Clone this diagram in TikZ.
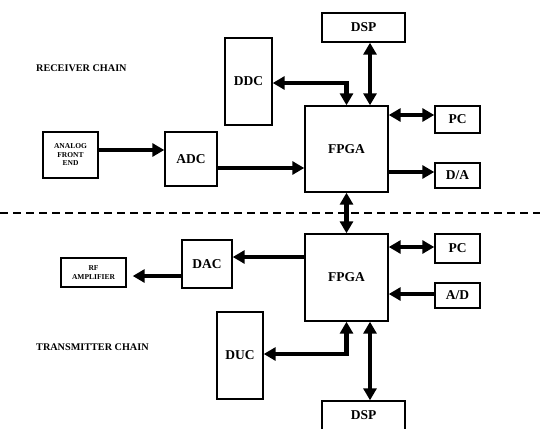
\documentclass[tikz,border=0pt]{standalone}
\usepackage{fontspec}
\setmainfont{Liberation Serif}
\usetikzlibrary{arrows.meta}
\begin{document}
\begin{tikzpicture}[x=1pt,y=-1pt,
  box/.style={draw,line width=1.4pt,inner sep=0pt,align=center,font=\bfseries\fontsize{13.5}{14}\selectfont},
  smallbox/.style={box,font=\bfseries\fontsize{7.5}{8.5}\selectfont},
  arr/.style={line width=4.5pt,-{Triangle[width=13pt,length=12pt]}},
  darr/.style={line width=4.5pt,{Triangle[width=13pt,length=12pt]}-{Triangle[width=13pt,length=12pt]}},
  chain/.style={anchor=west,inner sep=0pt,font=\bfseries\fontsize{10.2}{12}\selectfont}]
\useasboundingbox (0,0) rectangle (540,428);
% separator
\draw[line width=1.4pt,dash pattern=on 8pt off 5pt] (0,213) -- (540,213);
% receiver chain
\node[chain] (rxl) at (36,68) {RECEIVER CHAIN};
\node[box,minimum width=83,minimum height=29] (dspT) at (363.5,27.5) {DSP};
\node[box,minimum width=47,minimum height=87] (ddc) at (248.5,81.5) {DDC};
\node[box,minimum width=83,minimum height=86] (fpgaT) at (346.5,149) {FPGA};
\node[box,minimum width=45,minimum height=27] (pcT) at (457.5,119.5) {PC};
\node[box,minimum width=45,minimum height=25] (da) at (457.5,175.5) {D/A};
\node[smallbox,minimum width=55,minimum height=46] (afe) at (70.5,155) {ANALOG\\FRONT\\END};
\node[box,minimum width=52,minimum height=54] (adc) at (191,159) {ADC};
% transmitter chain
\node[chain] (txl) at (36,347) {TRANSMITTER CHAIN};
\node[box,minimum width=83,minimum height=87] (fpgaB) at (346.5,277.5) {FPGA};
\node[box,minimum width=45,minimum height=29] (pcB) at (457.5,248.5) {PC};
\node[box,minimum width=45,minimum height=25] (ad) at (457.5,295.5) {A/D};
\node[box,minimum width=50,minimum height=48] (dac) at (207,264) {DAC};
\node[smallbox,minimum width=65,minimum height=29] (rf) at (93.5,272.5) {RF\\AMPLIFIER};
\node[box,minimum width=46,minimum height=87] (duc) at (240,355.5) {DUC};
\node[box,minimum width=83,minimum height=29] (dspB) at (363.5,415.5) {DSP};
% receiver connectors
\draw[arr] (afe.east |- 0,150) -- (adc.west |- 0,150);
\draw[arr] (adc.east |- 0,168) -- (fpgaT.west |- 0,168);
\draw[darr] (ddc.east |- 0,83) -| (fpgaT.north);
\draw[darr] (dspT.south -| 370,0) -- (fpgaT.north -| 370,0);
\draw[darr] (fpgaT.east |- 0,115) -- (pcT.west |- 0,115);
\draw[arr] (fpgaT.east |- 0,172) -- (da.west |- 0,172);
% link between FPGAs
\draw[darr] (fpgaT.south) -- (fpgaB.north);
% transmitter connectors
\draw[darr] (fpgaB.east |- 0,247) -- (pcB.west |- 0,247);
\draw[arr] (ad.west |- 0,294) -- (fpgaB.east |- 0,294);
\draw[arr] (fpgaB.west |- 0,257) -- (dac.east |- 0,257);
\draw[arr] (dac.west |- 0,276) -- ([xshift=6]rf.east |- 0,276);
\draw[darr] (duc.east |- 0,354) -| (fpgaB.south);
\draw[darr] (fpgaB.south -| 370,0) -- (dspB.north -| 370,0);
\end{tikzpicture}
\end{document}
